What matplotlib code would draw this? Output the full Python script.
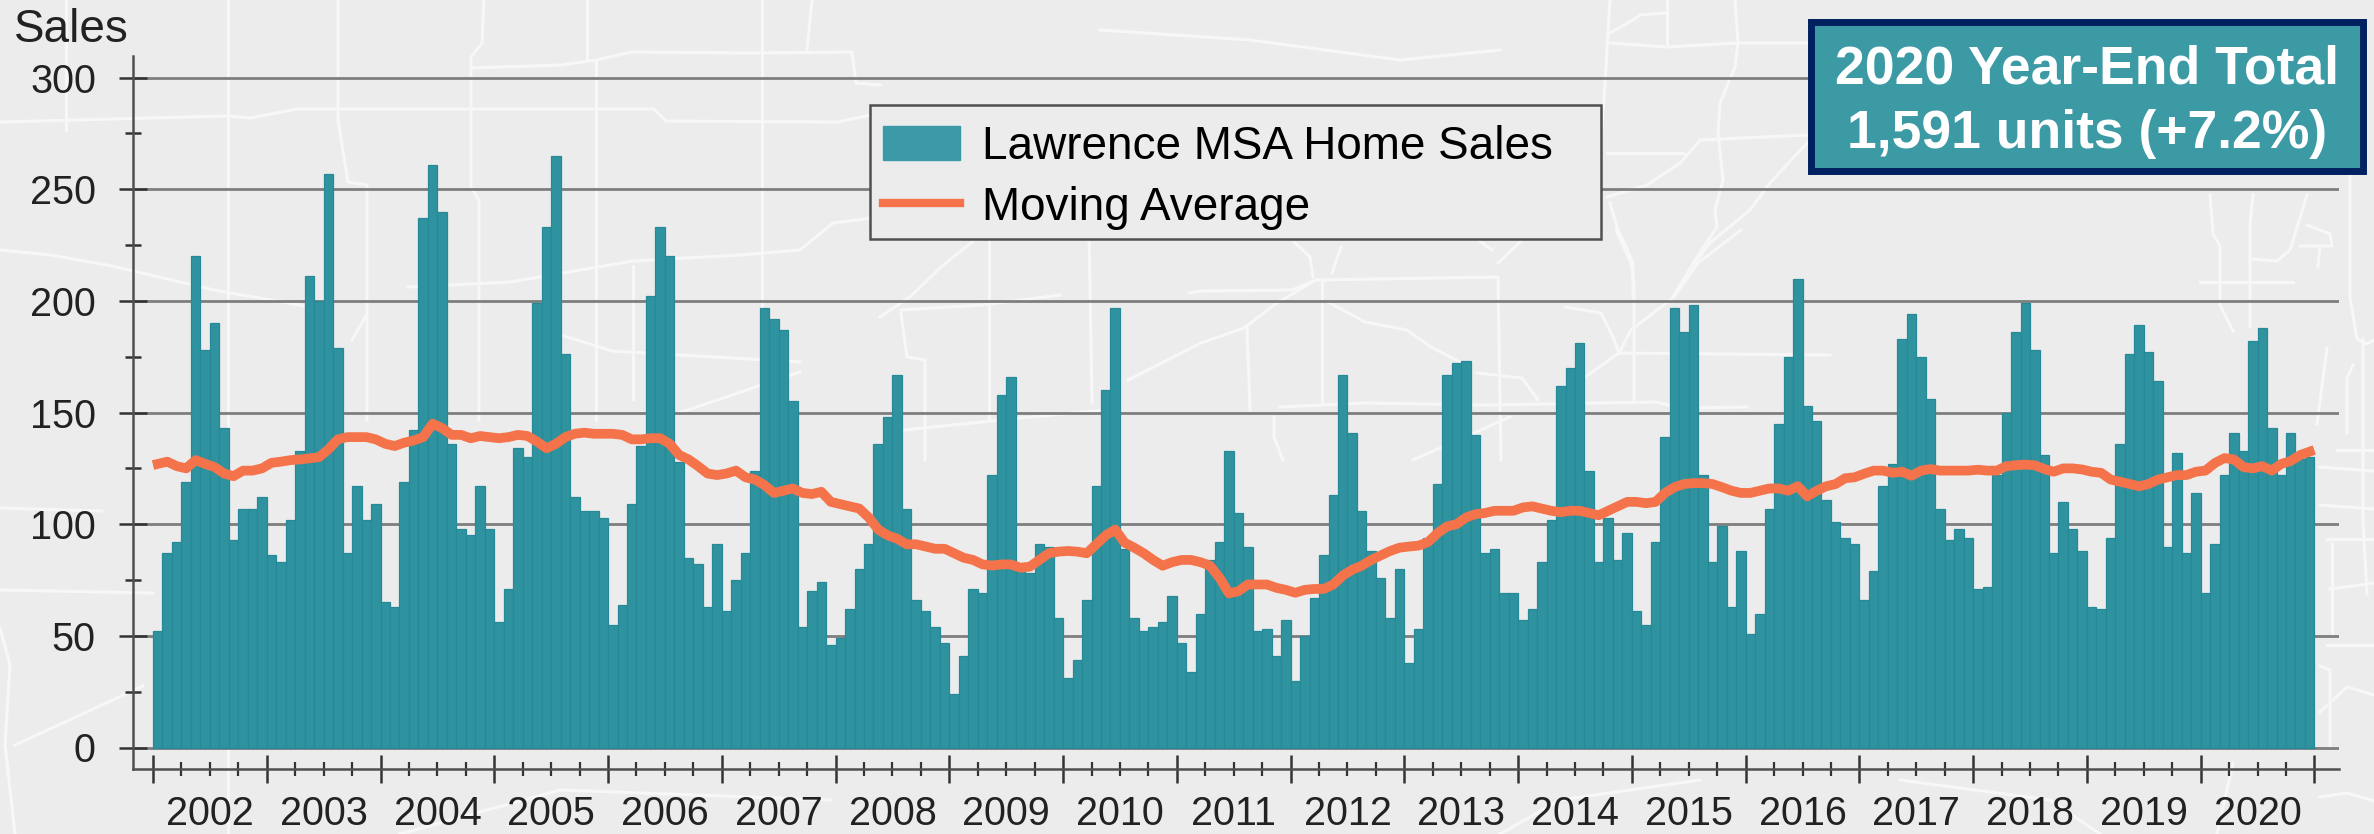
"""Lawrence MSA monthly home sales with moving average, 2002-2020."""
import numpy as np
import matplotlib
matplotlib.use("Agg")
import matplotlib.pyplot as plt
from matplotlib.patches import Rectangle, Patch
from matplotlib.lines import Line2D

years = list(range(2002, 2021))

sales = [
    52, 87, 92, 119, 220, 178, 190, 143, 93, 107, 107, 112,
    86, 83, 102, 133, 211, 200, 257, 179, 87, 117, 102, 109,
    65, 63, 119, 142, 237, 261, 240, 136, 98, 95, 117, 98,
    56, 71, 134, 130, 199, 233, 265, 176, 112, 106, 106, 103,
    55, 64, 109, 135, 202, 233, 220, 128, 85, 82, 63, 91,
    61, 75, 87, 124, 197, 192, 187, 155, 54, 70, 74, 46,
    49, 62, 80, 91, 136, 148, 167, 107, 66, 61, 54, 47,
    24, 41, 71, 69, 122, 158, 166, 82, 78, 91, 90, 58,
    31, 39, 66, 117, 160, 197, 89, 58, 52, 54, 56, 68,
    47, 34, 60, 84, 92, 133, 105, 90, 52, 53, 41, 57,
    30, 50, 67, 86, 113, 167, 141, 106, 88, 76, 58, 80,
    38, 53, 94, 118, 167, 172, 173, 140, 87, 89, 69, 69,
    57, 62, 83, 102, 162, 170, 181, 124, 83, 103, 84, 96,
    61, 55, 92, 139, 197, 186, 198, 122, 83, 99, 63, 88,
    51, 60, 107, 145, 175, 210, 153, 146, 111, 101, 94, 91,
    66, 79, 117, 127, 183, 194, 175, 156, 107, 93, 98, 94,
    71, 72, 122, 150, 186, 199, 178, 131, 87, 110, 98, 88,
    63, 62, 94, 136, 176, 189, 177, 164, 90, 132, 87, 114,
    69, 91, 122, 141, 133, 182, 188, 143, 122, 141, 129, 130,
]

moving_avg = [
    127, 128, 126, 125, 128.7, 127, 125.6, 122.7, 121.5, 124, 124, 125,
    127.5, 128, 128.7, 129, 129.5, 130, 133.5, 138, 139, 139, 139, 138,
    136, 135, 136.5, 137.5, 139, 145, 143, 140, 140, 138.5, 139.5, 139,
    138.5, 139, 140, 139.5, 137, 134, 136, 139, 140.5, 141, 140.5, 140.5,
    140.5, 140, 138, 138, 138.5, 138.5, 136, 131, 129, 126, 122.7, 122,
    122.7, 124, 121, 120, 117.5, 114, 115, 116, 114, 113.5, 114.5, 110,
    109, 108, 107, 103, 97.6, 95, 93.5, 91, 91, 90, 89, 89,
    87, 85, 84, 82, 81.5, 82, 82, 80.5, 81, 84, 87, 87.7,
    88, 87.7, 87, 91, 95, 97.6, 91.7, 89.5, 87, 84, 81.4, 83,
    84, 84, 83, 81.4, 76, 69, 70, 73, 73, 73, 71.5, 70.6,
    69.3, 70.6, 71, 71, 73, 77, 79.6, 81.4, 84, 86, 88, 89.5,
    90, 90.4, 92, 96, 99, 100, 103, 104.5, 105, 106, 106, 106,
    107.5, 108, 107, 106, 105.4, 106, 106, 105, 104, 106, 108, 110,
    110, 109.4, 110, 114, 116.6, 118, 118.4, 118.4, 118, 116.6, 115, 114,
    114, 115, 116, 116, 115, 117, 112.5, 115, 117, 118, 120.6, 121,
    122.6, 124, 124, 123, 123.5, 121.7, 124, 124.7, 124, 124, 124, 124,
    124.4, 124, 124, 126, 126.4, 126.7, 126.4, 124.7, 123.5, 125, 125, 124.5,
    123.5, 123, 120, 119, 118, 117, 118, 120, 121, 122, 122, 123.5,
    124, 127.4, 129.6, 129, 125.6, 125, 126, 124, 127, 128.3, 131, 132.5,
]

# map background, in image pixels
roads = [
    # top left
    [(0, 122), (226, 116), (250, 118), (297, 109), (654, 109), (666, 121), (838, 122), (880, 113), (1000, 122)],
    [(228, 0), (228, 834)],
    [(338, 0), (338, 120), (348, 182), (367, 185), (367, 420)],
    [(484, 0), (482, 43), (471, 57), (471, 187), (479, 200), (479, 420)],
    [(587, 0), (587, 60), (596, 60), (596, 420)],
    [(762, 0), (762, 420)],
    [(812, 0), (807, 50)],
    [(471, 68), (561, 65), (596, 60), (632, 52), (752, 53), (852, 52), (856, 83), (880, 85)],
    [(800, 250), (833, 223), (880, 217), (960, 240)],
    [(0, 250), (51, 255), (112, 266), (214, 290), (316, 308)],
    [(408, 287), (510, 282), (633, 261), (740, 255), (800, 250)],
    [(561, 335), (612, 351), (800, 362)],
    [(673, 415), (800, 372)],
    [(352, 340), (367, 314)],
    [(633, 266), (633, 399)],
    [(0, 508), (102, 511)],
    [(0, 590), (153, 593)],
    [(0, 628), (10, 665), (5, 745), (15, 834)],
    [(15, 745), (143, 686)],
    [(66, 0), (66, 130)],
    # middle
    [(989, 230), (989, 420)],
    [(1089, 230), (1092, 403)],
    [(901, 313), (907, 357), (925, 360), (925, 460)],
    [(983, 233), (941, 267), (910, 297), (880, 317)],
    [(901, 310), (983, 305), (1060, 295)],
    [(1189, 293), (1201, 291), (1292, 290), (1316, 280), (1498, 277), (1501, 460)],
    [(1292, 240), (1310, 257), (1313, 277)],
    [(1341, 247), (1332, 273)],
    [(1492, 250), (1474, 237)],
    [(1498, 263), (1522, 240)],
    [(1322, 280), (1322, 403)],
    [(1128, 380), (1201, 343), (1244, 328), (1274, 305), (1316, 280)],
    [(1247, 328), (1250, 410)],
    [(1328, 302), (1365, 322), (1407, 330), (1431, 347), (1462, 363)],
    [(1280, 407), (1365, 403), (1486, 405), (1656, 402), (1680, 408), (1747, 407)],
    [(904, 430), (1001, 420), (1104, 410)],
    [(1274, 417), (1274, 437), (1283, 460)],
    [(1477, 373), (1522, 378), (1538, 400)],
    [(1619, 353), (1830, 355)],
    [(1619, 353), (1595, 370), (1560, 395)],
    [(1616, 230), (1631, 263), (1634, 283), (1634, 400)],
    [(1741, 230), (1698, 263), (1674, 297), (1631, 330), (1619, 353)],
    [(1565, 307), (1601, 313), (1613, 337), (1619, 353)],
    [(1510, 417), (1413, 460)],
    [(1100, 30), (1250, 40), (1400, 60), (1500, 50)],
    # upper right
    [(1610, 0), (1605, 83), (1600, 160)],
    [(1610, 43), (1667, 47), (1737, 43), (1807, 43)],
    [(1667, 0), (1667, 43)],
    [(1610, 33), (1633, 20), (1640, 15), (1665, 13)],
    [(1735, 0), (1738, 43), (1735, 67), (1720, 103), (1718, 133), (1723, 180), (1715, 210), (1717, 227), (1697, 257), (1673, 297)],
    [(1607, 153), (1683, 153)],
    [(1647, 185), (1680, 163), (1700, 140), (1807, 135)],
    [(1807, 143), (1770, 183), (1750, 210), (1710, 243), (1695, 263)],
    [(1607, 197), (1647, 185)],
    [(1610, 203), (1617, 227), (1633, 263), (1633, 297)],
    # right edge
    [(2350, 170), (2350, 297), (2357, 339), (2367, 344), (2374, 340)],
    [(2253, 195), (2250, 225), (2250, 327)],
    [(2210, 195), (2213, 234), (2220, 246), (2220, 305), (2233, 331)],
    [(2200, 282), (2293, 282)],
    [(2250, 259), (2277, 261), (2290, 250), (2307, 195)],
    [(2307, 225), (2330, 234), (2332, 246), (2300, 246)],
    [(2320, 246), (2318, 267)],
    [(2353, 365), (2347, 378), (2347, 433)],
    [(2327, 348), (2317, 424)],
    [(2337, 450), (2374, 450)],
    [(2320, 467), (2374, 471)],
    [(2320, 505), (2374, 509)],
    [(2327, 539), (2374, 539)],
    [(2332, 543), (2332, 636)],
    [(2330, 589), (2374, 583)],
    [(2327, 645), (2374, 645)],
    [(2320, 712), (2347, 687), (2374, 695)],
    [(2320, 666), (2330, 670), (2330, 746)],
    [(2363, 339), (2363, 522), (2367, 594)],
    [(2320, 797), (2347, 793), (2374, 801)],
    [(2233, 763), (2217, 834)],
    # bottom strip
    [(400, 834), (560, 790), (830, 800)],
    [(1500, 834), (1560, 800), (1700, 780)],
    [(1900, 780), (2050, 800), (2100, 834)],
]

W, H = 2374, 834
BG = "#ECECEC"
BAR = "#2F939F"
BAR_EDGE = "#25899A"
LINE = "#F4734A"
AXIS = "#505050"
TXT = "#222222"

plt.rcParams["font.family"] = ["Liberation Sans", "DejaVu Sans"]

fig = plt.figure(figsize=(W / 100, H / 100), dpi=100, facecolor=BG)

ax_bg = fig.add_axes([0, 0, 1, 1])
ax_bg.set_xlim(0, W)
ax_bg.set_ylim(H, 0)
ax_bg.axis("off")
for road in roads:
    xs, ys = zip(*road)
    ax_bg.plot(xs, ys, color="#F7F7F7", lw=2.2, solid_joinstyle="round")

# axes box in image pixels: spine at x=133, x axis at y=769
left, right, top, bottom = 133, 2339, 56, 769
ax = fig.add_axes([left / W, 1 - bottom / H, (right - left) / W, (bottom - top) / H])
ax.patch.set_alpha(0)

month_w = 9.48
ax.set_xlim((left - 153) / month_w, (right - 153) / month_w)
unit = 2.233
ax.set_ylim(-(bottom - 747.5) / unit, (747.5 - top) / unit)

x = np.arange(len(sales))
ax.bar(x + 0.5, sales, width=1.0, color=BAR, edgecolor=BAR_EDGE, linewidth=0.9, zorder=2)
ax.plot(x + 0.5, moving_avg, color=LINE, lw=7, zorder=3, solid_joinstyle="round")

ax.set_yticks(np.arange(0, 301, 50))
ax.set_yticks(np.arange(25, 300, 50), minor=True)
ax.set_xticks(np.arange(0, 229, 12))
ax.set_xticks(np.arange(0, 229, 3), minor=True)
ax.set_xticklabels([])
ax.grid(axis="y", which="major", color="#7E7E7E", lw=2, zorder=1)
ax.set_axisbelow(True)

ax.tick_params(axis="y", which="major", direction="inout", length=19.5, width=1.8,
               color="#333333", labelsize=28.5, labelcolor=TXT, pad=17)
ax.tick_params(axis="y", which="minor", direction="inout", length=11, width=1.8, color="#333333")
ax.tick_params(axis="x", which="major", direction="inout", length=19.5, width=1.8, color="#333333")
ax.tick_params(axis="x", which="minor", direction="inout", length=10, width=1.6, color="#333333")

for side in ["top", "right"]:
    ax.spines[side].set_visible(False)
for side in ["left", "bottom"]:
    ax.spines[side].set_color(AXIS)
    ax.spines[side].set_linewidth(1.8)

for i, yr in enumerate(years):
    ax.text(i * 12 + 6, -29.8, str(yr), ha="center", va="center", fontsize=28.5,
            color=TXT, clip_on=False)

fig.text(14 / W, 1 - 30 / H, "Sales", ha="left", va="center", fontsize=33, color=TXT)

# legend box has more room on the right than matplotlib would leave
ax.add_patch(Rectangle((870 / W, 1 - 239 / H), 731 / W, 134 / H, transform=fig.transFigure,
                       facecolor=BG, edgecolor=AXIS, lw=1.8, alpha=1, clip_on=False, zorder=4))
handles = [Patch(facecolor="#3B9AA5", edgecolor="#3B9AA5"),
           Line2D([0], [0], color=LINE, lw=6)]
leg = ax.legend(handles, ["Lawrence MSA Home Sales", "Moving Average"],
                loc="upper left", bbox_to_anchor=(883 / W, 1 - 125 / H),
                bbox_transform=fig.transFigure, fontsize=33, frameon=False, labelcolor="black",
                handlelength=1.68, handleheight=0.75, handletextpad=0.48,
                borderaxespad=0, borderpad=0, labelspacing=0.36)
leg.set_zorder(5)

fig.add_artist(Rectangle((1811.5 / W, 1 - 170.5 / H), 551 / W, 149 / H,
                         transform=fig.transFigure, facecolor="#3C9AA5",
                         edgecolor="#002060", lw=5, zorder=10))
fig.text(2087 / W, 1 - 83.5 / H, "2020 Year-End Total", ha="center", va="baseline",
         fontsize=38.5, fontweight="bold", color="white", zorder=11)
fig.text(2087 / W, 1 - 148 / H, "1,591 units (+7.2%)", ha="center", va="baseline",
         fontsize=38.5, fontweight="bold", color="white", zorder=11)

fig.savefig("out.png", dpi=100, facecolor=BG)
